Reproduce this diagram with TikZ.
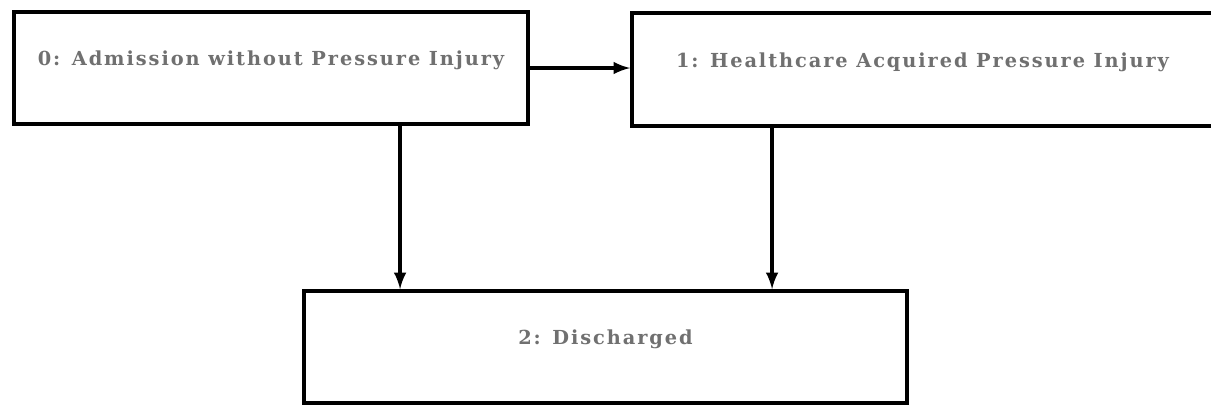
\documentclass[tikz,border=0pt]{standalone}
\usepackage{fontspec}
\usepackage{tikz}
\usetikzlibrary{arrows}
\usetikzlibrary{calc}
\newfontfamily\stagefont{DejaVu Serif}[LetterSpace=10]
\definecolor{stage-grey}{RGB}{112,112,112}
\tikzstyle{stage}=[draw, line width=2.2pt, rectangle, fill=white, text=stage-grey, font=\stagefont\bfseries\fontsize{11}{13}\selectfont, text height=0.26cm, text depth=0.36cm, inner sep=0pt]
\tikzstyle{flow}=[-latex, line width=2.2pt]

\begin{document}
\begin{tikzpicture}
	\useasboundingbox (0,0) rectangle (24.22,-8.1);
	\node[stage, minimum width=10.28cm, minimum height=2.24cm] (adm) at (5.42,-1.36) {0: Admission without Pressure Injury};
	\node[stage, minimum width=11.62cm, minimum height=2.26cm] (hapi) at (18.45,-1.39) {1: Healthcare Acquired Pressure Injury};
	\node[stage, minimum width=12.06cm, minimum height=2.24cm] (dis) at (12.11,-6.94) {2: Discharged};
	\draw[flow] (adm.east) -- (adm.east -| hapi.west);
	\draw[flow] ([xshift=7.76cm]adm.south west) -- ([xshift=7.76cm]adm.south west |- dis.north);
	\draw[flow] ([xshift=2.84cm]hapi.south west) -- ([xshift=2.84cm]hapi.south west |- dis.north);
\end{tikzpicture}
\end{document}
